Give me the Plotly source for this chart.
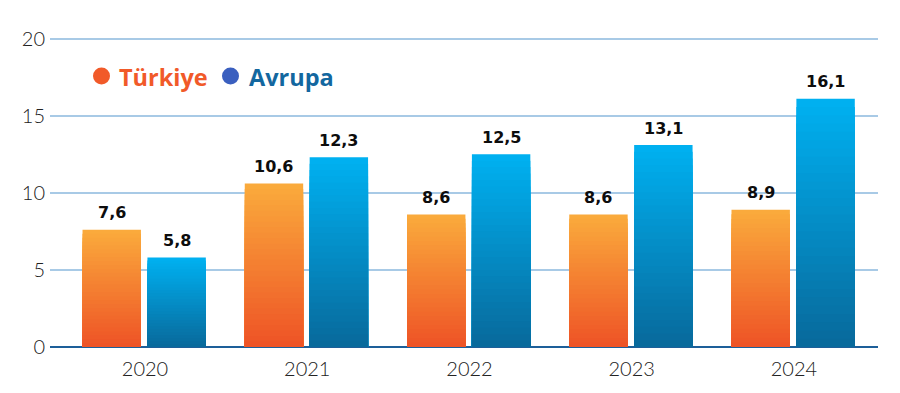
import plotly.graph_objects as go

years = ["2020", "2021", "2022", "2023", "2024"]
turkiye = [7.6, 10.6, 8.6, 8.6, 8.9]
avrupa = [5.8, 12.3, 12.5, 13.1, 16.1]
y_ticks = [0, 5, 10, 15, 20]

def fmt(v):
    return f"{v:.1f}".replace(".", ",")

def lerp(c1, c2, t):
    return "rgb({},{},{})".format(*[round(a + (b - a) * t) for a, b in zip(c1, c2)])

fig = go.Figure()
N = 30
series = [
    ("Türkiye", turkiye, (250, 170, 60), (238, 84, 38), -0.385),
    ("Avrupa", avrupa, (0, 176, 240), (8, 106, 156), 0.015),
]
W = 0.36
for name, vals, top, bot, off in series:
    for k in range(N):
        frac = (N - k) / N
        fig.add_trace(go.Bar(
            x=years, y=[v * frac for v in vals], name=name,
            offset=off, width=W,
            marker=dict(color=lerp(top, bot, k / (N - 1)), line=dict(width=0)),
            showlegend=False, hoverinfo="skip",
        ))
    for i, v in enumerate(vals):
        fig.add_annotation(
            x=i + off + W / 2, y=v, text=f"<b>{fmt(v)}</b>", showarrow=False,
            yshift=17,
            font=dict(family="DejaVu Sans", size=16, color="#0d0d0d"),
        )

# legend (pixel geometry converted to paper coords)
PL, PW, PT, PB = 50, 828, 34, 347
def px(x):
    return (x - PL) / PW
def py(y):
    return (PB - y) / (PB - PT)

legend_items = [("Türkiye", "#f15a29", "#f15a29", 101.5, 117),
                ("Avrupa", "#3a5fbf", "#13679f", 230.5, 247)]
for label, dot, col, cx, tx in legend_items:
    fig.add_shape(type="circle", xref="paper", yref="paper",
                  xsizemode="pixel", ysizemode="pixel",
                  xanchor=px(cx), yanchor=py(76), x0=-8.5, x1=8.5, y0=-8.5, y1=8.5,
                  fillcolor=dot, line=dict(width=0))
    fig.add_annotation(xref="paper", yref="paper", x=px(tx), y=py(76.5),
                       xanchor="left", yanchor="middle", showarrow=False,
                       text=f"<b>{label}</b>",
                       font=dict(family="Open Sans", size=23.5, color=col))

fig.update_layout(
    width=900, height=393, barmode="overlay",
    margin=dict(l=PL, r=900 - PL - PW, t=PT, b=393 - PB),
    plot_bgcolor="white", paper_bgcolor="white",
    xaxis=dict(type="category", range=[-0.5855, 4.518], showgrid=False, ticks="", showline=False, zeroline=False,
               ticklabelstandoff=8,
               tickfont=dict(family="Lato", size=20, color="#222222", weight=300)),
    yaxis=dict(range=[0, 20.3], tickvals=y_ticks, showgrid=True, gridcolor="#a8cae6", gridwidth=1.5,
               zeroline=True, zerolinecolor="#1d5f99", zerolinewidth=2,
               ticks="", ticklabelstandoff=4,
               tickfont=dict(family="Lato", size=20, color="#222222", weight=300)),
)
fig.write_html("out.html", config={"displayModeBar": False},
               post_script="document.body.style.margin='0';")
